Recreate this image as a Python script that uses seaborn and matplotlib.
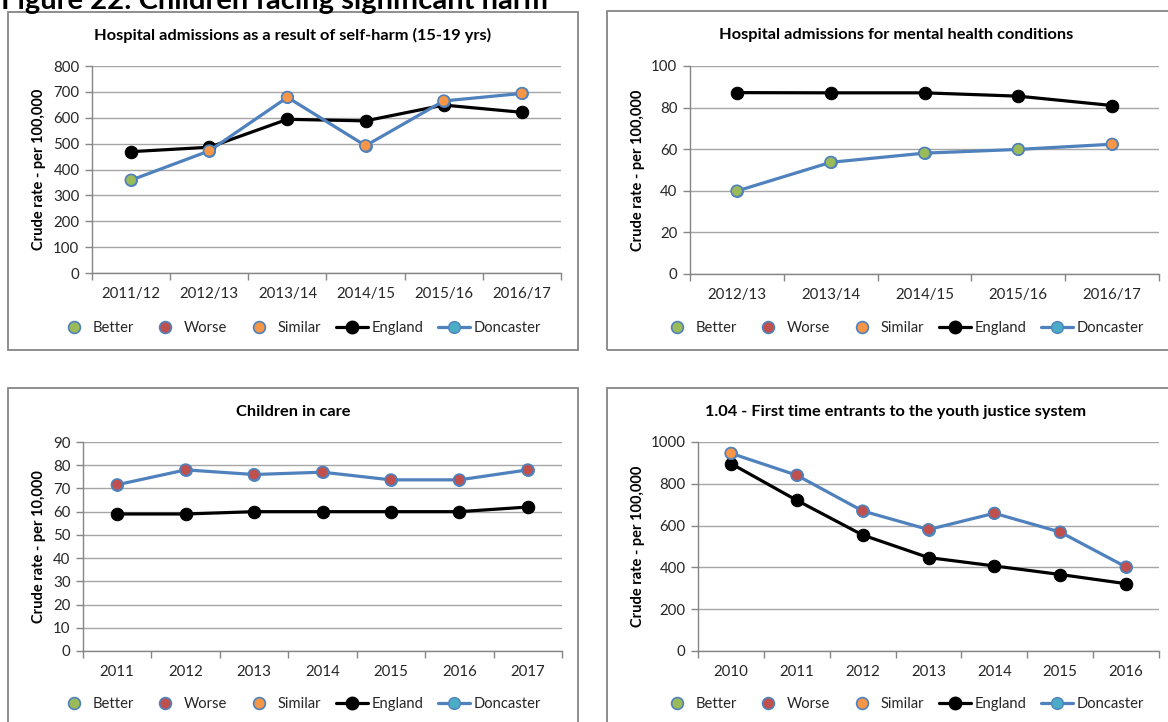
import numpy as np
import pandas as pd
import matplotlib
matplotlib.use("Agg")
import matplotlib.pyplot as plt
import matplotlib.transforms as mtransforms
from matplotlib.lines import Line2D
from matplotlib.patches import Rectangle
import seaborn as sns

# ================================
# DATA
# ================================

self_harm_years = ["2011/12", "2012/13", "2013/14", "2014/15", "2015/16", "2016/17"]
self_harm_england = [469, 486, 594, 588, 649, 621]
self_harm_doncaster = [359, 472, 679, 492, 665, 694]
self_harm_status = ["Better", "Similar", "Similar", "Similar", "Similar", "Similar"]

mental_years = ["2012/13", "2013/14", "2014/15", "2015/16", "2016/17"]
mental_england = [87.2, 87.1, 87.1, 85.5, 81.0]
mental_doncaster = [39.9, 53.7, 58.1, 59.9, 62.4]
mental_status = ["Better", "Better", "Better", "Better", "Similar"]

care_years = ["2011", "2012", "2013", "2014", "2015", "2016", "2017"]
care_england = [59, 59, 60, 60, 60, 60, 62]
care_doncaster = [71.6, 78, 76, 77, 73.7, 73.7, 78]
care_status = ["Worse", "Worse", "Worse", "Worse", "Worse", "Worse", "Worse"]

yjs_years = ["2010", "2011", "2012", "2013", "2014", "2015", "2016"]
yjs_england = [897, 721, 555, 447, 407, 366, 322]
yjs_doncaster = [946, 841, 670, 581, 659, 569, 402]
yjs_status = ["Similar", "Worse", "Worse", "Worse", "Worse", "Worse", "Worse"]

legend_labels = ["Better", "Worse", "Similar", "England", "Doncaster"]

# ================================
# STYLE
# ================================

BLUE = "#4F81BD"
AQUA = "#4BACC6"
status_colors = {"Better": "#9BBB59", "Worse": "#C0504D", "Similar": "#F79646"}
GRID = "#A6A6A6"
AXIS = "#868686"
TEXT = "#262626"

sns.set_style("white")
plt.rcParams["font.family"] = ["Lato", "DejaVu Sans"]

W, H = 1168, 722
fig = plt.figure(figsize=(W / 100, H / 100), dpi=100)


def fx(px):
    return px / W


def fy(py):
    return 1 - py / H


def draw_panel(box, axes_px, title, title_y, years, england, doncaster, status,
               ymax, ystep, ylabel, ylabel_x, legend_y):
    # panel frame
    bx0, by0, bx1, by1 = box
    fig.patches.append(Rectangle((fx(bx0), fy(by1)), fx(bx1 - bx0), (by1 - by0) / H,
                                 transform=fig.transFigure, fill=False,
                                 edgecolor=AXIS, linewidth=1.3, zorder=0))
    cx = (bx0 + bx1) / 2
    fig.text(fx(cx), fy(title_y), title, ha="center", va="center",
             fontsize=11.8, fontweight="bold", color="black")

    left, top, right, bottom = axes_px
    ax = fig.add_axes([fx(left), fy(bottom), fx(right - left), (bottom - top) / H])

    n = len(years)
    df = pd.DataFrame({
        "pos": np.arange(n),
        "England": england,
        "Doncaster": doncaster,
        "status": status,
    })

    sns.lineplot(data=df, x="pos", y="England", ax=ax, color="black", linewidth=2.3,
                 marker="o", markersize=9, markerfacecolor="black",
                 markeredgecolor="black", zorder=3)
    sns.lineplot(data=df, x="pos", y="Doncaster", ax=ax, color=BLUE, linewidth=2.3,
                 marker="o", markersize=8.5, markerfacecolor=AQUA,
                 markeredgecolor=BLUE, zorder=4)
    sns.scatterplot(data=df, x="pos", y="Doncaster", hue="status", palette=status_colors,
                    s=68, edgecolor=BLUE, linewidth=1.2, ax=ax, zorder=5, legend=False)

    ax.set_xlim(-0.5, n - 0.5)
    ax.set_ylim(0, ymax)
    ax.set_xticks(np.arange(n))
    ax.set_xticklabels(years)
    ax.set_xticks(np.arange(-0.5, n, 1.0), minor=True)
    ax.set_yticks(np.arange(0, ymax + ystep / 2, ystep))
    ax.tick_params(axis="x", which="major", length=0, pad=10, labelsize=10.8,
                   labelcolor=TEXT)
    ax.tick_params(axis="x", which="minor", length=5, width=1, color=AXIS,
                   direction="out", bottom=True)
    ax.tick_params(axis="y", length=5, width=1, color=AXIS, direction="out",
                   left=True, pad=4, labelsize=10.8, labelcolor=TEXT)

    ax.yaxis.grid(True, color=GRID, linewidth=1)
    ax.xaxis.grid(False)
    ax.set_axisbelow(True)
    for side in ["top", "right"]:
        ax.spines[side].set_visible(False)
    for side in ["left", "bottom"]:
        ax.spines[side].set_color(AXIS)
        ax.spines[side].set_linewidth(1)

    ax.set_xlabel("")
    ax.set_ylabel(ylabel, fontsize=10.5, fontweight="bold", color="black")
    ax.yaxis.label.set_va("center")
    ax.yaxis.set_label_coords(fx(ylabel_x), 0.5,
                              transform=mtransforms.blended_transform_factory(
                                  fig.transFigure, ax.transAxes))

    handles = [
        Line2D([], [], ls="none", marker="o", ms=8.5, mfc=status_colors["Better"],
               mec=BLUE, mew=1.2),
        Line2D([], [], ls="none", marker="o", ms=8.5, mfc=status_colors["Worse"],
               mec=BLUE, mew=1.2),
        Line2D([], [], ls="none", marker="o", ms=8.5, mfc=status_colors["Similar"],
               mec=BLUE, mew=1.2),
        Line2D([], [], color="black", lw=2.3, marker="o", ms=9, mfc="black", mec="black"),
        Line2D([], [], color=BLUE, lw=2.3, marker="o", ms=8.5, mfc=AQUA, mec=BLUE),
    ]
    ax.legend(handles, legend_labels, loc="center",
              bbox_to_anchor=(fx(cx + 6), fy(legend_y)), bbox_transform=fig.transFigure,
              ncol=5, frameon=False, fontsize=10.6, handlelength=2.2,
              handletextpad=0.2, columnspacing=1.0, labelcolor=TEXT)
    return ax


draw_panel((8, 12, 578, 350), (92, 66, 561, 273),
           "Hospital admissions as a result of self-harm (15-19 yrs)", 35,
           self_harm_years, self_harm_england, self_harm_doncaster, self_harm_status,
           800, 100, "Crude rate - per 100,000", 39, 328)

draw_panel((607, 11, 1185, 350), (690, 66, 1159, 274),
           "Hospital admissions for mental health conditions", 35,
           mental_years, mental_england, mental_doncaster, mental_status,
           100, 20, "Crude rate - per 100,000", 638, 328)

draw_panel((8, 388, 578, 735), (83, 442, 562, 651),
           "Children in care", 412,
           care_years, care_england, care_doncaster, care_status,
           90, 10, "Crude rate - per 10,000", 39, 704)

draw_panel((607, 388, 1185, 735), (698, 442, 1159, 651),
           "1.04 - First time entrants to the youth justice system", 412,
           yjs_years, yjs_england, yjs_doncaster, yjs_status,
           1000, 200, "Crude rate - per 100,000", 638, 704)

# page heading, cut off at the top edge as in the source screenshot
fig.text(fx(1), fy(9), "Figure 22: Children facing significant harm",
         ha="left", va="baseline", fontsize=21, fontweight="bold", color="black")

fig.savefig("out.png", dpi=100)
